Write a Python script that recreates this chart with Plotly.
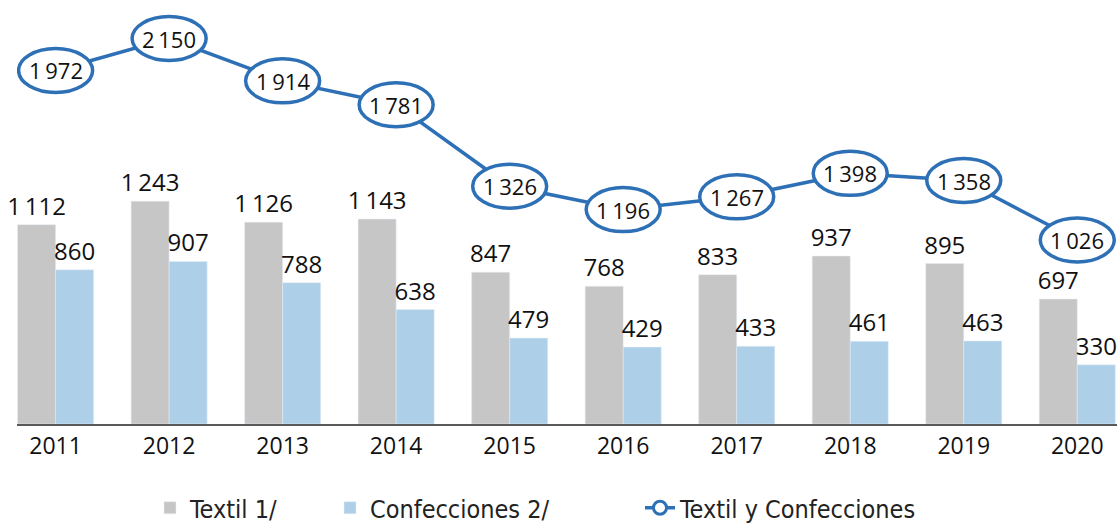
import plotly.graph_objects as go

years = ["2011", "2012", "2013", "2014", "2015", "2016", "2017", "2018", "2019", "2020"]
textil = [1112, 1243, 1126, 1143, 847, 768, 833, 937, 895, 697]
confecciones = [860, 907, 788, 638, 479, 429, 433, 461, 463, 330]
total = [1972, 2150, 1914, 1781, 1326, 1196, 1267, 1398, 1358, 1026]

GREY = "#C6C6C6"
LBLUE = "#AECFE8"
LINE = "#2E70B6"
NUMFONT = "Open Sans"
LEGFONT = dict(family="DejaVu Sans Condensed, Roboto Condensed, Roboto, sans-serif",
               size=25, color="#222222")


def fmt(v):
    s = f"{v:,}"
    return s.replace(",", "\u2009")


fig = go.Figure()
fig.add_trace(go.Bar(
    x=years, y=textil, name="Textil 1/", marker_color=GREY,
    text=[fmt(v) for v in textil], textposition="outside", constraintext="none",
    textfont=dict(family=NUMFONT, size=24, color="#111111"), cliponaxis=False,
    legend="legend",
))
fig.add_trace(go.Bar(
    x=years, y=confecciones, name="Confecciones 2/", marker_color=LBLUE,
    text=[fmt(v) for v in confecciones], textposition="outside", constraintext="none",
    textfont=dict(family=NUMFONT, size=24, color="#111111"), cliponaxis=False,
    legend="legend2",
))
fig.add_trace(go.Scatter(
    x=years, y=total, name="Textil y Confecciones", mode="lines+markers",
    line=dict(color=LINE, width=3.5),
    marker=dict(symbol="circle", size=13, color="white", line=dict(color=LINE, width=3)),
    cliponaxis=False, legend="legend3",
))

shapes = []
annotations = []
for i, v in enumerate(total):
    shapes.append(dict(
        type="circle", xref="x", yref="y", xsizemode="pixel", ysizemode="pixel",
        xanchor=i, yanchor=v, x0=-37, x1=37, y0=-22, y1=22,
        line=dict(color=LINE, width=3.5), fillcolor="white", layer="above",
    ))
    annotations.append(dict(
        x=i, y=v, xref="x", yref="y", text=fmt(v), showarrow=False,
        font=dict(family=NUMFONT, size=22, color="#111111"),
    ))


def leg(xpx):
    return dict(
        orientation="h", xref="container", yref="container",
        x=xpx / 1117, xanchor="left", y=0.0, yanchor="bottom",
        font=LEGFONT, itemwidth=30, bgcolor="rgba(0,0,0,0)",
    )


fig.update_layout(
    width=1117, height=531,
    margin=dict(l=17, r=0, t=0, b=107, autoexpand=False),
    paper_bgcolor="white", plot_bgcolor="white",
    barmode="group", bargap=0.33, bargroupgap=0,
    showlegend=True,
    legend=leg(150),
    legend2=leg(330),
    legend3=leg(640),
    xaxis=dict(
        type="category", range=[-0.34, 9.35], showline=True, linecolor="#595959",
        linewidth=2, ticks="", showgrid=False,
        tickfont=dict(family=NUMFONT, size=23, color="#111111"),
    ),
    yaxis=dict(range=[0, 2365], visible=False, showgrid=False),
    shapes=shapes,
    annotations=annotations,
)

fig.write_html("out.html", config={"displayModeBar": False},
               post_script="document.body.style.margin='0';")
